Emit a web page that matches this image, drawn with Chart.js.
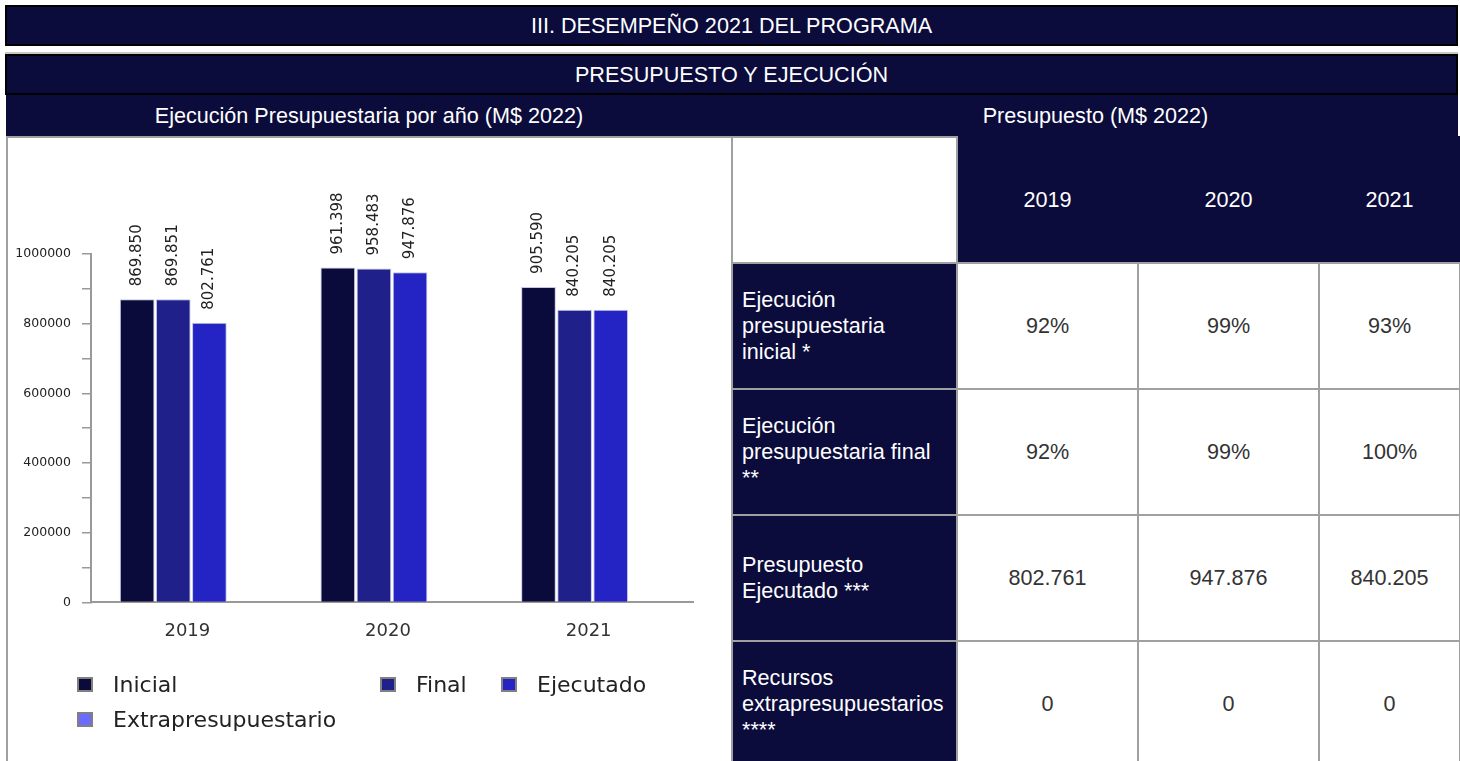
<!DOCTYPE html>
<html lang="es">
<head>
<meta charset="utf-8">
<title>Desempeño 2021 del programa</title>
<script src="https://cdn.jsdelivr.net/npm/chart.js@4.4.1/dist/chart.umd.min.js"></script>
<style>
  body { margin: 0; width: 1460px; height: 761px; overflow: hidden; background: #fff;
         font-family: "Liberation Sans", Arial, sans-serif; position: relative; }
  .navy { position: absolute; background: #0b0c3c; color: #fff; text-align: center; font-size: 21.6px; }
  #h1 { left: 5px; top: 5px; width: 1449px; height: 37px; line-height: 37px; border: 2px solid #000; }
  #h2 { left: 5px; top: 54px; width: 1449px; height: 37px; line-height: 37px; border: 2px solid #000;
        box-shadow: 0 -2px 0 #c8c8c8; }
  #h3 { left: 6px; top: 95px; width: 1452px; height: 42px; line-height: 42px; }
  #h3 span { position: absolute; top: 0; }
  #panel { position: absolute; left: 6px; top: 136px; width: 725px; height: 630px;
           border-left: 2px solid #a0a0a0; border-top: 2px solid #a0a0a0; }
  #chart { position: absolute; left: 0; top: 0; }
  .lg { position: absolute; font-family: "DejaVu Sans", sans-serif; font-size: 22px; color: #222;
        white-space: nowrap; }
  .lg i { display: inline-block; width: 12px; height: 11px; border: 2px solid #808080;
          vertical-align: middle; margin-right: 20px; position: relative; top: -2px; }
  #tbl { position: absolute; left: 731px; top: 136px; width: 728px; border-collapse: collapse;
         table-layout: fixed; font-size: 21.6px; }
  #tbl td { border: 2px solid #a0a0a0; height: 124px; padding: 0 9px; color: #333; text-align: center;
            line-height: 26px; overflow: visible; }
  #tbl td.lab { background: #0b0c3c; color: #fff; text-align: left; padding-right: 20px; }
  #tbl td.yr { background: #0b0c3c; color: #fff; border-color: #0b0c3c; border-bottom-color: #a0a0a0; }
  #tbl td.blank { background: #fff; }
</style>
</head>
<body>
<div id="h1" class="navy">III. DESEMPEÑO 2021 DEL PROGRAMA</div>
<div id="h2" class="navy">PRESUPUESTO Y EJECUCIÓN</div>
<div id="h3" class="navy">
  <span style="left:0;width:726px">Ejecución Presupuestaria por año (M$ 2022)</span>
  <span style="left:727px;width:725px">Presupuesto (M$ 2022)</span>
</div>
<div id="panel">
  <canvas id="chart" width="723" height="626"></canvas>
</div>
<table id="tbl">
  <colgroup><col style="width:225px"><col style="width:181px"><col style="width:181px"><col style="width:141px"></colgroup>
  <tbody id="tbody"></tbody>
</table>
<script>
// chart data (M$ 2022)
const years = ['2019', '2020', '2021'];
const inicial = [869850, 961398, 905590];
const final = [869851, 958483, 840205];
const ejecutado = [802761, 947876, 840205];
const extrapresupuestario = [0, 0, 0];
const seriesNames = ['Inicial', 'Final', 'Ejecutado', 'Extrapresupuestario'];
const seriesColors = ['#0b0b3b', '#20208a', '#2424c4', '#6b6bff'];

// table data
const rowLabels = ['Ejecución presupuestaria inicial *', 'Ejecución presupuestaria final **',
                   'Presupuesto Ejecutado ***', 'Recursos extrapresupuestarios ****'];
const execInicial = ['92%', '99%', '93%'];
const execFinal = ['92%', '99%', '100%'];
const presEjecutado = ['802.761', '947.876', '840.205'];
const recursosExtra = ['0', '0', '0'];

// legend layout (left, centre y) inside the chart panel
const legendSpots = [[69, 548], [372, 548], [493, 548], [69, 583]];

//Thousands with a dot, like the source
function fmt(v) {
    return String(v).replace(/\B(?=(\d{3})+(?!\d))/g, '.');
}

//Rotated value labels above each bar
const barLabels = {
    id: 'barLabels',
    afterDatasetsDraw(chart) {
        const ctx = chart.ctx;
        ctx.save();
        ctx.font = '15px "DejaVu Sans"';
        ctx.fillStyle = '#222';
        ctx.textAlign = 'left';
        ctx.textBaseline = 'middle';
        chart.data.datasets.forEach((ds, i) => {
            chart.getDatasetMeta(i).data.forEach((bar, j) => {
                if (!ds.data[j]) return;
                ctx.save();
                ctx.translate(bar.x, bar.y - 13);
                ctx.rotate(-Math.PI / 2);
                ctx.fillText(fmt(ds.data[j]), 0, 0);
                ctx.restore();
            });
        });
        ctx.restore();
    }
};

const allSeries = [inicial, final, ejecutado, extrapresupuestario];

const myChart = new Chart(document.getElementById('chart'), {
    type: 'bar',
    data: {
        labels: years,
        datasets: allSeries.map((d, i) => ({
            label: seriesNames[i],
            data: d,
            backgroundColor: seriesColors[i],
            borderColor: 'rgba(190,190,230,0.9)',
            borderWidth: 1,
            categoryPercentage: 0.72,
            barPercentage: 0.96
        }))
    },
    options: {
        responsive: false,
        animation: false,
        layout: { padding: { top: 116, left: 0, right: 38, bottom: 112 } },
        plugins: {
            legend: { display: false },
            tooltip: { enabled: false }
        },
        scales: {
            x: {
                grid: { display: false },
                border: { display: true, color: '#999', width: 2 },
                ticks: {
                    color: '#333',
                    font: { family: 'DejaVu Sans', size: 18 },
                    padding: 10,
                    labelOffset: -4
                }
            },
            y: {
                min: 0,
                max: 1000000,
                afterFit: s => { s.width = 83; },
                grid: { drawOnChartArea: false, tickLength: 9, tickColor: '#999', lineWidth: 1.5 },
                border: { display: true, color: '#999', width: 2 },
                ticks: {
                    stepSize: 100000,
                    color: '#222',
                    padding: 11,
                    font: { family: 'DejaVu Sans', size: 12.5 },
                    callback: v => (v % 200000 === 0 ? String(v) : '')
                }
            }
        }
    },
    plugins: [barLabels]
});

//HTML legend from the datasets
const panel = document.getElementById('panel');
myChart.data.datasets.forEach((ds, i) => {
    const el = document.createElement('div');
    el.className = 'lg';
    el.style.left = legendSpots[i][0] + 'px';
    el.style.top = (legendSpots[i][1] - 14) + 'px';
    el.innerHTML = '<i style="background:' + ds.backgroundColor + '"></i>' + ds.label;
    panel.appendChild(el);
});

//Table
const tbody = document.getElementById('tbody');
let head = '<tr><td class="blank"></td>' + years.map(y => '<td class="yr">' + y + '</td>').join('') + '</tr>';
const rows = [execInicial, execFinal, presEjecutado, recursosExtra];
rows.forEach((r, i) => {
    head += '<tr><td class="lab">' + rowLabels[i] + '</td>' + r.map(v => '<td>' + v + '</td>').join('') + '</tr>';
});
tbody.innerHTML = head;
</script>
</body>
</html>
